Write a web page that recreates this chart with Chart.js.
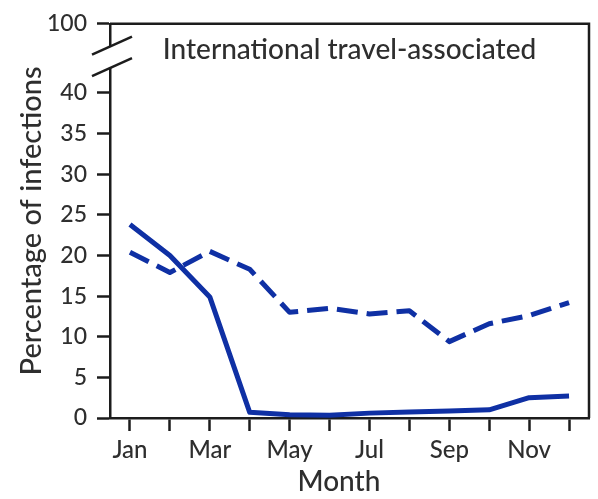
<!DOCTYPE html>
<html>
<head>
<meta charset="utf-8">
<script src="https://cdn.jsdelivr.net/npm/chart.js@4"></script>
<style>
  html, body { margin: 0; padding: 0; background: #fff; }
  #wrap { width: 598px; height: 499px; position: relative; }
</style>
</head>
<body>
<div id="wrap"><canvas id="travelChart"></canvas></div>
<script>
// Dados
const months = ['Jan', 'Feb', 'Mar', 'Apr', 'May', 'Jun', 'Jul', 'Aug', 'Sep', 'Oct', 'Nov', 'Dec'];
const solidValues = [23.8, 20.0, 14.9, 0.7, 0.4, 0.35, 0.6, 0.75, 0.85, 1.0, 2.5, 2.7];
const dashedValues = [20.4, 17.9, 20.5, 18.3, 13.0, 13.5, 12.8, 13.2, 9.4, 11.6, 12.6, 14.2];
const yTickValues = [0, 5, 10, 15, 20, 25, 30, 35, 40];
const breakTickLabel = '100';
const panelTitle = 'International travel-associated';

const BLUE = '#0f30a4';
const INK = '#1c1c1c';
const TEXT = '#2e2e2e';
const FONT = 'Lato, "Open Sans", sans-serif';
const WEIGHT = 500;
const Y_TOP = 48.5; // topo do eixo quebrado (rótulo "100")

// Moldura superior/direita, marcas de quebra e título interno
const framePlugin = {
    id: 'frame',
    afterDraw(chart) {
        const { ctx, chartArea } = chart;
        const y = chart.scales.y;
        const top = chartArea.top;
        const y40 = y.getPixelForValue(40);
        const span = y40 - top;

        ctx.save();
        ctx.strokeStyle = INK;
        ctx.lineWidth = 2.5;
        ctx.beginPath();
        ctx.moveTo(chartArea.left, top);
        ctx.lineTo(chartArea.right, top);
        ctx.lineTo(chartArea.right, chartArea.bottom);
        ctx.stroke();

        // quebra do eixo
        const b1 = top + span * 0.33;
        const b2 = top + span * 0.64;
        ctx.fillStyle = '#fff';
        ctx.fillRect(chartArea.left - 3, b1, 6, b2 - b1);
        ctx.lineWidth = 2.5;
        [b1, b2].forEach(by => {
            ctx.beginPath();
            ctx.moveTo(chartArea.left - 18, by + 8);
            ctx.lineTo(chartArea.left + 22, by - 10);
            ctx.stroke();
        });

        ctx.fillStyle = TEXT;
        ctx.font = WEIGHT + ' 28px ' + FONT;
        ctx.textAlign = 'center';
        ctx.textBaseline = 'alphabetic';
        ctx.fillText(panelTitle, (chartArea.left + chartArea.right) / 2, top + 35);
        ctx.restore();
    }
};

const ctx = document.getElementById('travelChart').getContext('2d');
new Chart(ctx, {
    type: 'line',
    data: {
        labels: months,
        datasets: [
            {
                label: 'Solid',
                data: solidValues,
                borderColor: BLUE,
                borderWidth: 5,
                pointRadius: 0,
                tension: 0,
                borderJoinStyle: 'round'
            },
            {
                label: 'Dashed',
                data: dashedValues,
                borderColor: BLUE,
                borderWidth: 5,
                borderDash: [21, 9],
                pointRadius: 0,
                tension: 0,
                borderJoinStyle: 'round'
            }
        ]
    },
    options: {
        responsive: true,
        maintainAspectRatio: false,
        animation: false,
        layout: {
            padding: { top: 16, right: 9, left: 0, bottom: 0 }
        },
        plugins: {
            legend: { display: false },
            tooltip: { enabled: false }
        },
        scales: {
            x: {
                type: 'category',
                offset: true,
                afterFit(scale) { scale.height = 81; },
                grid: {
                    offset: false,
                    drawOnChartArea: false,
                    drawTicks: true,
                    tickLength: 13,
                    tickWidth: 2.5,
                    color: INK
                },
                border: { display: true, color: INK, width: 2.5 },
                ticks: {
                    autoSkip: false,
                    maxRotation: 0,
                    padding: 5,
                    color: TEXT,
                    font: { family: FONT, size: 24, weight: WEIGHT },
                    callback: function(value, index) {
                        return index % 2 === 0 ? months[index] : '';
                    }
                },
                title: {
                    display: true,
                    text: 'Month   ',
                    color: TEXT,
                    font: { family: FONT, size: 28, weight: WEIGHT },
                    padding: { top: 0, bottom: 0 }
                }
            },
            y: {
                min: 0,
                max: Y_TOP,
                afterFit(scale) { scale.width = 110; },
                afterBuildTicks(scale) {
                    scale.ticks = yTickValues.concat([Y_TOP]).map(v => ({ value: v }));
                },
                grid: {
                    drawOnChartArea: false,
                    drawTicks: true,
                    tickLength: 13,
                    tickWidth: 2.5,
                    color: INK
                },
                border: { display: true, color: INK, width: 2.5 },
                ticks: {
                    padding: 10,
                    color: TEXT,
                    font: { family: FONT, size: 23, weight: WEIGHT },
                    callback: function(value) {
                        return value === Y_TOP ? breakTickLabel : value;
                    }
                },
                title: {
                    display: true,
                    text: 'Percentage of infections',
                    color: TEXT,
                    font: { family: FONT, size: 29, weight: WEIGHT },
                    padding: { top: 14, bottom: 0 }
                }
            }
        }
    },
    plugins: [framePlugin]
});
</script>
</body>
</html>
